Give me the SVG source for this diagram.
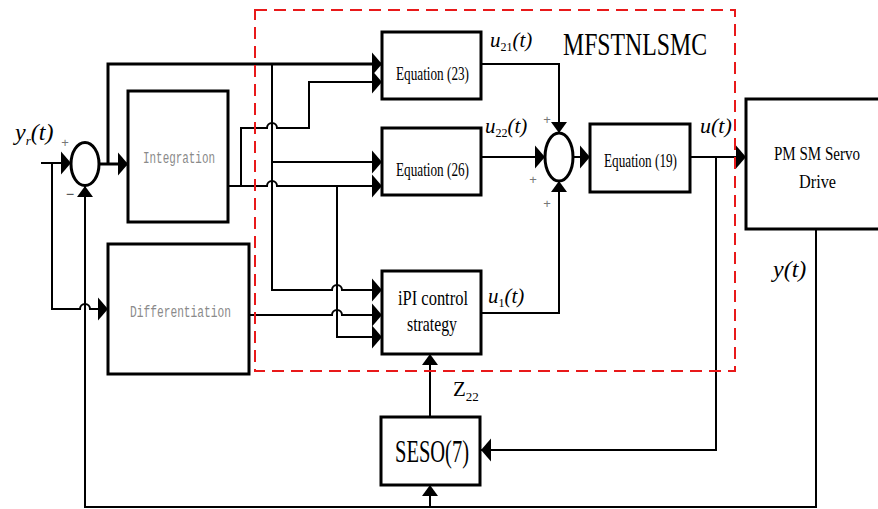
<svg xmlns="http://www.w3.org/2000/svg" width="878" height="509" viewBox="0 0 878 509">
<style>
.box{fill:#fff;stroke:#000;stroke-width:3}
.ln{fill:none;stroke:#000;stroke-width:2}
.thk{stroke-width:3}
.ah{marker-end:url(#ah)}
.av{marker-end:url(#av)}
.t{font-family:"Liberation Serif","DejaVu Serif","Noto Serif",serif;fill:#000}
.m{font-family:"Liberation Mono","DejaVu Sans Mono",monospace;fill:#8a8a8a}
.it{font-family:"Liberation Serif","DejaVu Serif","Noto Serif",serif;font-style:italic;fill:#000}
.pl{font-family:"Liberation Sans","DejaVu Sans",sans-serif;font-size:13px;fill:#777;text-anchor:middle}
</style>
<defs>
<marker id="ah" markerUnits="userSpaceOnUse" markerWidth="10" markerHeight="24" viewBox="0 0 10 24" refX="10" refY="12" orient="auto">
<path d="M0,0.5 L10,12 L0,23.5 Z" fill="#000"/>
</marker>
<marker id="av" markerUnits="userSpaceOnUse" markerWidth="11" markerHeight="16" viewBox="0 0 11 16" refX="11" refY="8" orient="auto">
<path d="M0,0 L11,8 L0,16 Z" fill="#000"/>
</marker>
</defs>
<rect width="878" height="509" fill="#fff"/>

<g id="connectors">
<path class="ln ah" d="M41,163 H71"/>
<path class="ln ah" d="M52,163 V309 H80 A5,5 0 0 1 90,309 H108"/>
<path class="ln av" d="M816,229 V507 H85 V186"/>
<path class="ln av" d="M430,507 V485"/>
<path class="ln thk ah" d="M99,164 H128"/>
<path class="ln thk ah" d="M108,164 V64 H382"/>
<path class="ln ah" d="M228,186 H267 A5,5 0 0 1 277,186 H382"/>
<path class="ln ah" d="M241,186 V128 H267 A5,5 0 0 1 277,128 H309 V82 H382"/>
<path class="ln ah" d="M272,64 V290 H332 A5,5 0 0 1 342,290 H382"/>
<path class="ln ah" d="M272,162 H382"/>
<path class="ln ah" d="M337,186 V337 H382"/>
<path class="ln ah" d="M249,315 H332 A5,5 0 0 1 342,315 H382"/>
<path class="ln av" d="M481,64 H559 V133"/>
<path class="ln ah" d="M481,157 H545"/>
<path class="ln av" d="M481,313 H559 V181"/>
<path class="ln ah" d="M573,157 H590"/>
<path class="ln ah" d="M690,157 H746"/>
<path class="ln ah" d="M716,157 V450 H481"/>
<path class="ln av" d="M430,417 V354"/>
</g>

<g id="sum1">
<ellipse cx="85" cy="164" rx="14" ry="21.5" fill="#fff" stroke="#000" stroke-width="3"/>
<text class="pl" x="65" y="147">+</text>
<text class="t" x="70" y="199" font-size="15" text-anchor="middle">−</text>
</g>

<g id="integration">
<rect class="box" x="128" y="91" width="100" height="131"/>
<text class="m" x="143" y="163" font-size="16" textLength="72" lengthAdjust="spacingAndGlyphs">Integration</text>
</g>

<g id="differentiation">
<rect class="box" x="108" y="244" width="141" height="130"/>
<text class="m" x="130" y="317" font-size="16" textLength="101" lengthAdjust="spacingAndGlyphs">Differentiation</text>
</g>

<g id="eq23">
<rect class="box" x="382" y="32" width="99" height="67"/>
<text class="t" x="396" y="80" font-size="19" textLength="73" lengthAdjust="spacingAndGlyphs">Equation (23)</text>
</g>

<g id="eq26">
<rect class="box" x="382" y="128" width="99" height="67"/>
<text class="t" x="396" y="176" font-size="19" textLength="73" lengthAdjust="spacingAndGlyphs">Equation (26)</text>
</g>

<g id="ipi">
<rect class="box" x="382" y="271" width="99" height="83"/>
<text class="t" x="398" y="305" font-size="21" textLength="70" lengthAdjust="spacingAndGlyphs">iPI control</text>
<text class="t" x="407" y="331" font-size="21" textLength="50" lengthAdjust="spacingAndGlyphs">strategy</text>
</g>

<g id="sum2">
<ellipse cx="559" cy="157" rx="14" ry="24" fill="#fff" stroke="#000" stroke-width="3"/>
<text class="pl" x="547" y="124">+</text>
<text class="pl" x="533" y="184">+</text>
<text class="pl" x="547" y="208">+</text>
</g>

<g id="eq19">
<rect class="box" x="590" y="124" width="100" height="68"/>
<text class="t" x="604" y="167" font-size="19" textLength="73" lengthAdjust="spacingAndGlyphs">Equation (19)</text>
</g>

<g id="pmsm">
<path d="M878,99 H746 V229 H878" fill="#fff" stroke="#000" stroke-width="3"/>
<text class="t" x="817" y="160" font-size="18" text-anchor="middle" textLength="86" lengthAdjust="spacingAndGlyphs">PM SM Servo</text>
<text class="t" x="817.5" y="188" font-size="18" text-anchor="middle" textLength="37" lengthAdjust="spacingAndGlyphs">Drive</text>
</g>

<g id="seso">
<rect class="box" x="381" y="417" width="99" height="68"/>
<text class="t" x="395" y="462" font-size="31" textLength="74" lengthAdjust="spacingAndGlyphs">SESO(7)</text>
</g>

<g id="labels">
<text class="it" x="15" y="140" font-size="24">y<tspan font-size="13" dy="5">r</tspan><tspan dy="-5">(t)</tspan></text>
<text class="it" x="490" y="47" font-size="21">u<tspan font-style="normal" font-size="12" dy="4">21</tspan><tspan dy="-4">(t)</tspan></text>
<text class="it" x="485" y="133" font-size="21">u<tspan font-style="normal" font-size="12" dy="4">22</tspan><tspan dy="-4">(t)</tspan></text>
<text class="it" x="488" y="303" font-size="21">u<tspan font-style="normal" font-size="12" dy="4">1</tspan><tspan dy="-4">(t)</tspan></text>
<text class="it" x="700" y="133" font-size="22">u(t)</text>
<text class="it" x="773" y="277" font-size="24">y(t)</text>
<text class="t" x="453" y="396" font-size="21">Z<tspan font-size="13" dy="5">22</tspan></text>
<text class="t" x="563" y="55" font-size="31" textLength="144" lengthAdjust="spacingAndGlyphs">MFSTNLSMC</text>
</g>

<rect x="255" y="10" width="480" height="361" fill="none" stroke="#e8191a" stroke-width="2" stroke-dasharray="12,7"/>
</svg>
